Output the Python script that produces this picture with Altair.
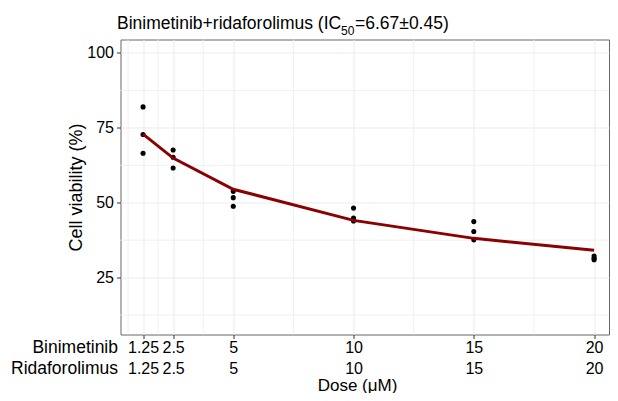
import altair as alt
import pandas as pd

# ---- data ----
doses = [1.25, 2.5, 5, 10, 15, 20]
rep1 = [82.0, 67.6, 53.8, 48.2, 43.7, 32.2]
rep2 = [72.8, 65.2, 51.7, 44.9, 40.4, 31.5]
rep3 = [66.5, 61.6, 48.8, 43.9, 37.6, 31.0]
fit = [72.9, 64.9, 54.5, 44.1, 38.1, 34.1]
y_ticks = [25, 50, 75, 100]
x_minor = [0.625, 1.875, 3.75, 7.5, 12.5, 17.5]
y_minor = [12.5, 37.5, 62.5, 87.5]
row_labels = ["Binimetinib", "Ridaforolimus"]

FONT = "Liberation Sans"
W, H = 488.5, 295
xdom = [0.3125, 20.62]
ydom = [6, 104.5]

pts = pd.DataFrame({
    "dose": doses * 3,
    "viability": rep1 + rep2 + rep3,
})
fit_df = pd.DataFrame({"dose": doses, "viability": fit})
xmin_df = pd.DataFrame({"x": x_minor})
ymin_df = pd.DataFrame({"y": y_minor})
one = pd.DataFrame({"a": [0]})

xscale = alt.Scale(domain=xdom, nice=False, zero=False)
yscale = alt.Scale(domain=ydom, nice=False, zero=False)

label_expr = "[format(datum.value, '~g'), format(datum.value, '~g')]"

x_axis = alt.Axis(
    values=doses, title="Dose (\u03bcM)", labelExpr=label_expr,
    labelBaseline="top", labelLineHeight=21, labelPadding=1,
    titleX=236.5, titleY=55.5, titleBaseline="alphabetic",
    titleAlign="center", titleFontWeight="normal", titleFontSize=17,
)
y_axis = alt.Axis(
    values=y_ticks, title="Cell viability (%)", labelPadding=3,
    titleX=-44.5, titleY=H / 2, titleAngle=-90, titleBaseline="middle",
    titleAlign="center", titleFontWeight="normal", titleFontSize=18,
)

minor_x = alt.Chart(xmin_df).mark_rule(color="#F0F0F0", strokeWidth=1).encode(
    x=alt.X("x:Q", scale=xscale, axis=x_axis)
)
minor_y = alt.Chart(ymin_df).mark_rule(color="#F0F0F0", strokeWidth=1).encode(
    y=alt.Y("y:Q", scale=yscale, axis=y_axis)
)

points = alt.Chart(pts).mark_circle(color="black", size=26, opacity=1).encode(
    x=alt.X("dose:Q", scale=xscale, axis=x_axis),
    y=alt.Y("viability:Q", scale=yscale, axis=y_axis),
)
line = alt.Chart(fit_df).mark_line(color="#8B0000", strokeWidth=3).encode(
    x=alt.X("dose:Q", scale=xscale, axis=x_axis),
    y=alt.Y("viability:Q", scale=yscale, axis=y_axis),
)

title_main = alt.Chart(one).mark_text(
    text="Binimetinib+ridaforolimus (IC", font=FONT, fontSize=17.5,
    align="left", baseline="alphabetic", color="black"
).encode(x=alt.value(-3.5), y=alt.value(-10.5))
title_sub = alt.Chart(one).mark_text(
    text="50", font=FONT, fontSize=12,
    align="left", baseline="alphabetic", color="black"
).encode(x=alt.value(220.5), y=alt.value(-4.5))
title_end = alt.Chart(one).mark_text(
    text="=6.67\u00b10.45)", font=FONT, fontSize=17.5,
    align="left", baseline="alphabetic", color="black"
).encode(x=alt.value(234.5), y=alt.value(-10.5))

rows = alt.Chart(one).mark_text(
    font=FONT, fontSize=17.5, align="right", baseline="alphabetic",
    lineHeight=21, color="black"
).encode(x=alt.value(-2.5), y=alt.value(H + 18), text=alt.value(row_labels))

chart = alt.layer(
    minor_x, minor_y, points, line, title_main, title_sub, title_end, rows
).properties(
    width=W, height=H,
    autosize=alt.AutoSizeParams(type="none"),
    padding={"left": 112.5, "top": 31.5, "right": 0.5, "bottom": 58.5},
).configure_view(
    stroke="#666666", strokeWidth=1
).configure_axis(
    domain=False, grid=True, gridColor="#EBEBEB", gridWidth=1,
    tickColor="#333333", tickSize=4, tickWidth=1,
    labelFont=FONT, labelFontSize=16, labelColor="black",
    titleFont=FONT, titleColor="black",
)

chart.save("out.html", embed_options={"renderer": "svg", "actions": False})
